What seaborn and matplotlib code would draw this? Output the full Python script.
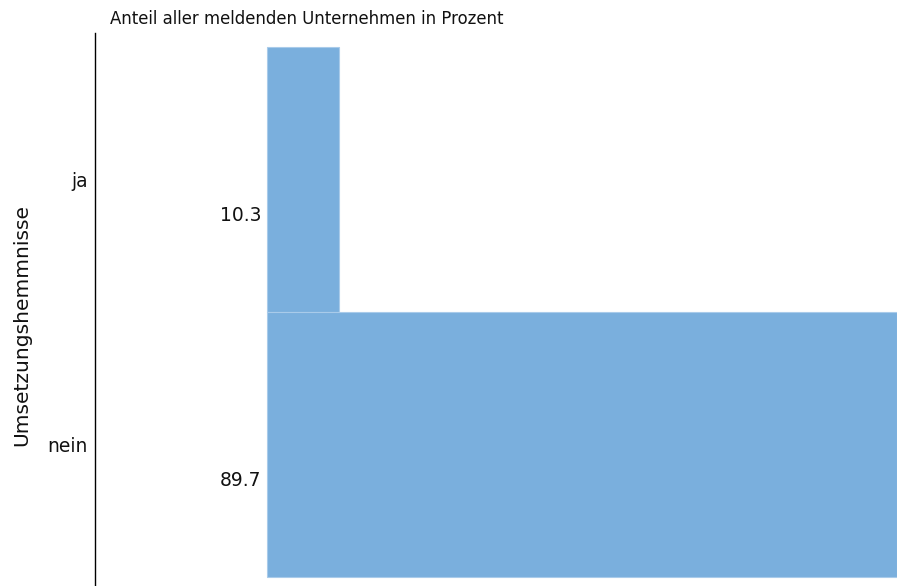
import matplotlib
matplotlib.use('Agg')
import matplotlib.pyplot as plt
import pandas as pd
import seaborn as sns

kategorien = ['ja', 'nein']
anteile = [10.3, 89.7]
titel = 'Anteil aller meldenden Unternehmen in Prozent'
y_titel = 'Umsetzungshemmnisse'


def zeichne():
    sns.set_theme(style='white')
    plt.rcParams['font.family'] = ['DejaVu Sans']
    df = pd.DataFrame({'kategorie': kategorien, 'anteil': anteile})

    fig = plt.figure(figsize=(9.01, 5.86), dpi=100)
    ax = fig.add_axes([95 / 901, 0, (897 - 95) / 901, 1 - 33 / 586])
    sns.barplot(data=df, x='anteil', y='kategorie', orient='h', color='#7aafdd',
                saturation=1, width=1.0, edgecolor='#a9cbea', linewidth=0.8, ax=ax)

    ax.set_xlim(-24.49, 89.7)
    ax.set_ylim(1.534, -0.553)
    for i, v in enumerate(anteile):
        ax.text(-0.8, i + 0.135, f'{v:.1f}', ha='right', va='center', fontsize=13.5, color='#111111')

    for s in ['top', 'right', 'bottom']:
        ax.spines[s].set_visible(False)
    ax.spines['left'].set_color('black')
    ax.spines['left'].set_linewidth(1)
    ax.set_xticks([])
    ax.tick_params(axis='y', length=0, pad=5, labelsize=13.5, labelcolor='#111111')
    ax.set_xlabel('')
    ax.set_ylabel(y_titel, fontsize=14.6, color='#111111')
    ax.yaxis.set_label_coords(-0.080, 0.472)
    fig.text(110 / 901, 1 - 19 / 586, titel, ha='left', va='center', fontsize=11.9, color='#111111')
    fig.savefig('out.png', dpi=100)


if __name__ == '__main__':
    zeichne()
